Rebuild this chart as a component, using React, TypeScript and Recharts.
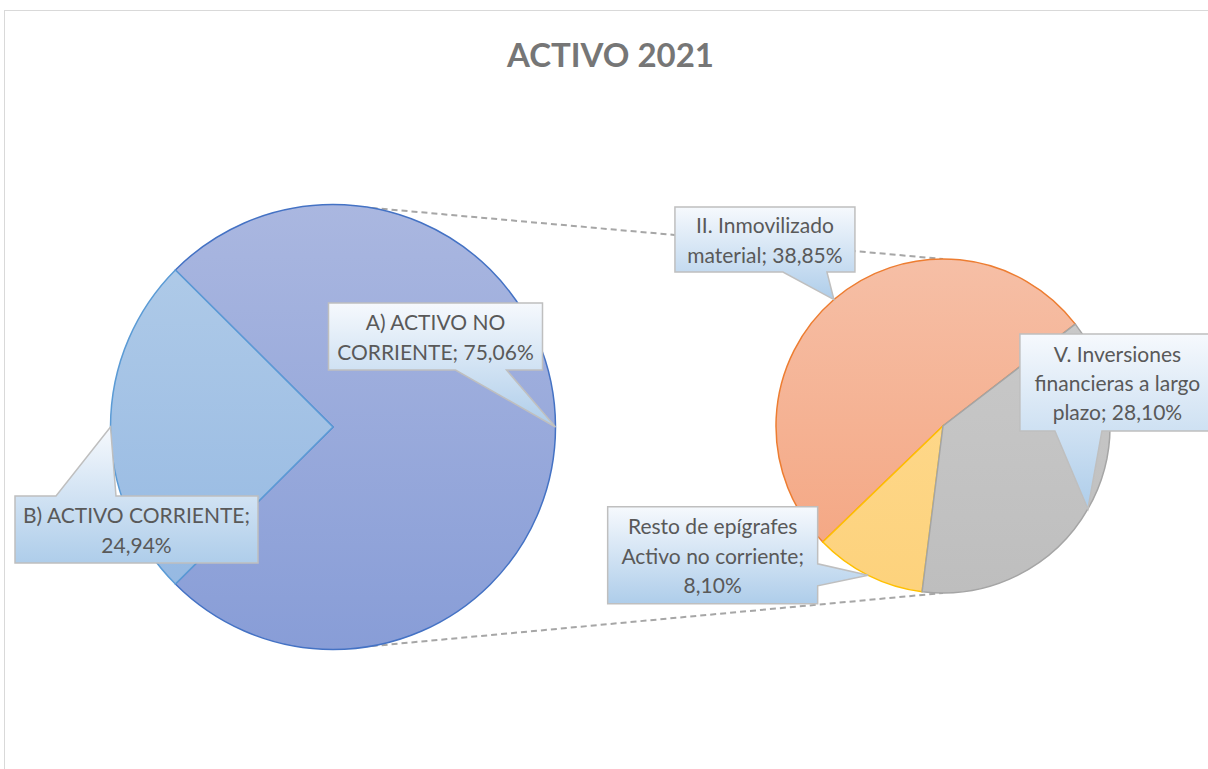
import React from "react";
import { PieChart, Pie, Cell } from "recharts";

// main pie: activo total split
const mainNames = ["A) ACTIVO NO CORRIENTE", "B) ACTIVO CORRIENTE"];
const mainValues = [75.06, 24.94];

// secondary pie: breakdown of activo no corriente
const detailNames = [
  "II. Inmovilizado material",
  "Resto de epígrafes Activo no corriente",
  "V. Inversiones financieras a largo plazo",
];
const detailValues = [38.85, 8.1, 28.1];

const W = 1208;
const H = 769;
const MAIN = { cx: 333, cy: 427, r: 222.5 };
const DETAIL = { cx: 943, cy: 426, r: 167 };
const DETAIL_START = 37.6;
const RAD = Math.PI / 180;
const FONT = "Lato, 'Open Sans', sans-serif";

const mainColors = [
  { top: "#aab7e0", bottom: "#889dd7", stroke: "#4472c4" },
  { top: "#b3cde9", bottom: "#91b6e1", stroke: "#5b9bd5" },
];
const detailColors = [
  { top: "#f6bfa6", bottom: "#f4a47f", stroke: "#ed7d31" },
  { top: "#fedc95", bottom: "#fdd27c", stroke: "#ffc000" },
  { top: "#cbcbcb", bottom: "#bebebe", stroke: "#a5a5a5" },
];

type Callout = {
  dx: number;
  dy: number;
  w: number;
  h: number;
  side: "top" | "bottom" | "right";
  a: number;
  b: number;
  words: number[];
};

const mainCallouts: Callout[] = [
  { dx: -227, dy: -124, w: 214, h: 67, side: "bottom", a: -100, b: -49, words: [3, 2] },
  { dx: -95.5, dy: 69, w: 243, h: 67, side: "top", a: -54.5, b: 5.5, words: [3, 1] },
];
const detailCallouts: Callout[] = [
  { dx: -159, dy: -92.5, w: 180, h: 65, side: "bottom", a: -51, b: -7, words: [2, 2] },
  { dx: -260.5, dy: -68.5, w: 210, h: 97, side: "right", a: -11.5, b: 10.5, words: [3, 3, 1] },
  { dx: -68, dy: -175, w: 195, h: 97, side: "bottom", a: -33, b: 14, words: [2, 3, 2] },
];

const polar = (cx: number, cy: number, r: number, a: number) => ({
  x: cx + r * Math.cos(-a * RAD),
  y: cy + r * Math.sin(-a * RAD),
});

const fmt = (v: number) => v.toFixed(2).replace(".", ",") + "%";

function splitLines(text: string, counts: number[]) {
  const words = text.split(" ");
  const out: string[] = [];
  let i = 0;
  counts.forEach((c) => {
    out.push(words.slice(i, i + c).join(" "));
    i += c;
  });
  return out;
}

function calloutPath(x: number, y: number, w: number, h: number, c: Callout, tx: number, ty: number) {
  if (c.side === "bottom") {
    return `M${x},${y} H${x + w} V${y + h} H${tx + c.b} L${tx},${ty} L${tx + c.a},${y + h} H${x} Z`;
  }
  if (c.side === "top") {
    return `M${x},${y} H${tx + c.a} L${tx},${ty} L${tx + c.b},${y} H${x + w} V${y + h} H${x} Z`;
  }
  return `M${x},${y} H${x + w} V${ty + c.a} L${tx},${ty} L${x + w},${ty + c.b} V${y + h} H${x} Z`;
}

function makeLabel(names: string[], values: number[], callouts: Callout[]) {
  return (props: any) => {
    const { cx, cy, outerRadius, midAngle, index } = props;
    const tip = polar(cx, cy, outerRadius, midAngle);
    const c = callouts[index];
    const x = tip.x + c.dx;
    const y = tip.y + c.dy;
    const lines = splitLines(`${names[index]}; ${fmt(values[index])}`, c.words);
    const lh = 29.3;
    const first = y + (c.h - lines.length * lh) / 2 + 23;
    return (
      <g>
        <path
          d={calloutPath(x, y, c.w, c.h, c, tip.x, tip.y)}
          fill="url(#calloutFill)"
          stroke="#bfbfbf"
          strokeWidth={1.5}
        />
        <text
          x={x + c.w / 2}
          y={first}
          textAnchor="middle"
          fontFamily={FONT}
          fontSize={21}
          fill="#595959"
        >
          {lines.map((l, i) => (
            <tspan key={i} x={x + c.w / 2} y={first + i * lh}>
              {l}
            </tspan>
          ))}
        </text>
      </g>
    );
  };
}

const mainData = mainNames.map((name, i) => ({ name, value: mainValues[i] }));
const detailData = detailNames.map((name, i) => ({ name, value: detailValues[i] }));

const mainTotal = mainValues.reduce((s, v) => s + v, 0);
const mainStart = -((mainValues[0] / mainTotal) * 360) / 2;

export default function App() {
  const topA = polar(MAIN.cx, MAIN.cy, MAIN.r, 80);
  const botA = polar(MAIN.cx, MAIN.cy, MAIN.r, -80);
  const topB = polar(DETAIL.cx, DETAIL.cy, DETAIL.r, 90);
  const botB = polar(DETAIL.cx, DETAIL.cy, DETAIL.r, -90);

  return (
    <div
      style={{
        position: "absolute",
        left: 0,
        top: 0,
        width: W,
        height: H,
        overflow: "hidden",
        background: "#fff",
      }}
    >
      <div
        style={{
          position: "absolute",
          left: 4,
          top: 10,
          width: W + 40,
          height: H + 40,
          border: "1.5px solid #d9d9d9",
        }}
      />
      <svg width={W} height={H} style={{ position: "absolute", left: 0, top: 0 }}>
        <line x1={topA.x} y1={topA.y} x2={topB.x} y2={topB.y} stroke="#a6a6a6" strokeWidth={2} strokeDasharray="6 4" />
        <line x1={botA.x} y1={botA.y} x2={botB.x} y2={botB.y} stroke="#a6a6a6" strokeWidth={2} strokeDasharray="6 4" />
      </svg>
      <div
        style={{
          position: "absolute",
          left: 0,
          top: 38,
          width: W + 13,
          textAlign: "center",
          fontFamily: FONT,
          fontWeight: 700,
          fontSize: 33,
          color: "#767676",
          lineHeight: "33px",
        }}
      >
        ACTIVO 2021
      </div>
      <div style={{ position: "absolute", left: 0, top: 0 }}>
        <PieChart width={W} height={H} margin={{ top: 0, right: 0, bottom: 0, left: 0 }}>
          <defs>
            {mainColors.map((c, i) => (
              <linearGradient
                key={`m${i}`}
                id={`main${i}`}
                gradientUnits="userSpaceOnUse"
                x1={0}
                y1={MAIN.cy - MAIN.r}
                x2={0}
                y2={MAIN.cy + MAIN.r}
              >
                <stop offset="0%" stopColor={c.top} />
                <stop offset="100%" stopColor={c.bottom} />
              </linearGradient>
            ))}
            {detailColors.map((c, i) => (
              <linearGradient
                key={`d${i}`}
                id={`detail${i}`}
                gradientUnits="userSpaceOnUse"
                x1={0}
                y1={DETAIL.cy - DETAIL.r}
                x2={0}
                y2={DETAIL.cy + DETAIL.r}
              >
                <stop offset="0%" stopColor={c.top} />
                <stop offset="100%" stopColor={c.bottom} />
              </linearGradient>
            ))}
            <linearGradient id="calloutFill" x1="0" y1="0" x2="0" y2="1">
              <stop offset="0%" stopColor="#f6f9fd" />
              <stop offset="100%" stopColor="#aecdea" />
            </linearGradient>
          </defs>
          <Pie
            data={mainData}
            dataKey="value"
            nameKey="name"
            cx={MAIN.cx}
            cy={MAIN.cy}
            outerRadius={MAIN.r}
            startAngle={mainStart}
            endAngle={mainStart + 360}
            isAnimationActive={false}
            labelLine={false}
            label={makeLabel(mainNames, mainValues, mainCallouts)}
          >
            {mainData.map((d, i) => (
              <Cell key={d.name} fill={`url(#main${i})`} stroke={mainColors[i].stroke} strokeWidth={1.5} />
            ))}
          </Pie>
          <Pie
            data={detailData}
            dataKey="value"
            nameKey="name"
            cx={DETAIL.cx}
            cy={DETAIL.cy}
            outerRadius={DETAIL.r}
            startAngle={DETAIL_START}
            endAngle={DETAIL_START + 360}
            isAnimationActive={false}
            labelLine={false}
            label={makeLabel(detailNames, detailValues, detailCallouts)}
          >
            {detailData.map((d, i) => (
              <Cell key={d.name} fill={`url(#detail${i})`} stroke={detailColors[i].stroke} strokeWidth={1.5} />
            ))}
          </Pie>
        </PieChart>
      </div>
    </div>
  );
}
